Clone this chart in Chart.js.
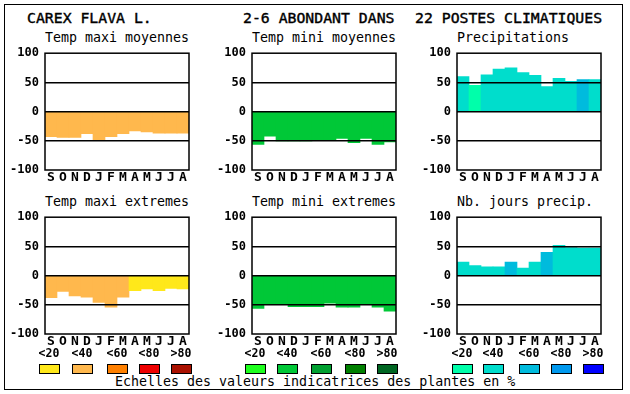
<!DOCTYPE html>
<html lang="fr">
<head>
<meta charset="UTF-8">
<title>Carex flava L.</title>
<style>
  * { box-sizing: border-box; margin: 0; padding: 0; }
  html, body { width: 630px; height: 394px; background: #fff; overflow: hidden; }
  .frame { position: absolute; left: 4px; top: 4px; width: 619px; height: 386px; border: 1px solid #000; }
  .txt { position: absolute; font-family: 'DejaVu Sans Mono', monospace; color: #000; white-space: pre; line-height: 16px; }
  .head { font-size: 14.8px; -webkit-text-stroke: 0.4px #000; }
  .ptitle { font-size: 13.3px; }
  canvas { position: absolute; }
  .sw { position: absolute; width: 21px; height: 10px; border: 1px solid #000; }
  .lab { position: absolute; width: 40px; text-align: center; line-height: 14px; font: bold 11.5px 'DejaVu Sans Mono', monospace; }
</style>
</head>
<body>
<div class="frame"></div>
<div class="txt head" style="left:27px;top:10px">CAREX FLAVA L.</div>
<div class="txt head" style="left:243px;top:10px">2-6 ABONDANT DANS</div>
<div class="txt head" style="left:415px;top:10px">22 POSTES CLIMATIQUES</div>
<div class="txt ptitle" style="left:115px;top:374px">Echelles des valeurs indicatrices des plantes en %</div>
<div id="charts"></div>

<script src="https://cdn.jsdelivr.net/npm/chart.js@4.4.0/dist/chart.umd.min.js"></script>
<script>
// --- data ---
const months = ['S', 'O', 'N', 'D', 'J', 'F', 'M', 'A', 'M', 'J', 'J', 'A'];
const yTicks = [100, 50, 0, -50, -100];
const classLabels = ['<20', '<40', '<60', '<80', '>80'];

const warmColors = ['#FFE81A', '#FFB84D', '#FF8000', '#EE0000', '#AA1100'];
const greenColors = ['#1EFF1E', '#00C837', '#00A030', '#008000', '#006622'];
const blueColors = ['#00FFAA', '#00DDCC', '#00BBDD', '#0099EE', '#0000FF'];

const tempMaxiMoy = [-43, -44, -44, -38, -48, -43, -38, -33, -35, -37, -37, -37];
const tempMaxiMoyCls = [1, 1, 1, 1, 1, 1, 1, 1, 1, 1, 1, 1];
const tempMiniMoy = [-56, -42, -50, -50, -50, -48, -48, -46, -53, -46, -56, -52];
const tempMiniMoyCls = [1, 1, 1, 1, 1, 1, 1, 1, 1, 1, 1, 1];
const precip = [60, 45, 63, 73, 75, 67, 62, 43, 57, 52, 55, 55];
const precipCls = [1, 0, 1, 1, 1, 1, 1, 1, 1, 1, 2, 1];
const tempMaxiExt = [-38, -27, -35, -37, -46, -54, -37, -26, -23, -26, -22, -23];
const tempMaxiExtCls = [1, 1, 1, 1, 1, 1, 1, 0, 0, 0, 0, 0];
const tempMiniExt = [-56, -49, -49, -53, -53, -53, -47, -54, -54, -49, -54, -61];
const tempMiniExtCls = [1, 1, 1, 1, 1, 1, 1, 1, 1, 1, 1, 1];
const joursPrecip = [23, 17, 15, 15, 23, 13, 23, 40, 52, 48, 47, 47];
const joursPrecipCls = [1, 1, 1, 1, 2, 1, 1, 2, 1, 1, 1, 1];

// panel layout (plot area left/top)
const panels = [
    { title: 'Temp maxi moyennes', values: tempMaxiMoy, cls: tempMaxiMoyCls, pal: warmColors, x: 45, y: 50 },
    { title: 'Temp mini moyennes', values: tempMiniMoy, cls: tempMiniMoyCls, pal: greenColors, x: 252, y: 50 },
    { title: 'Precipitations', values: precip, cls: precipCls, pal: blueColors, x: 457, y: 50 },
    { title: 'Temp maxi extremes', values: tempMaxiExt, cls: tempMaxiExtCls, pal: warmColors, x: 45, y: 214 },
    { title: 'Temp mini extremes', values: tempMiniExt, cls: tempMiniExtCls, pal: greenColors, x: 252, y: 214 },
    { title: 'Nb. jours precip.', values: joursPrecip, cls: joursPrecipCls, pal: blueColors, x: 457, y: 214 },
];

const AXW = 40, PW = 144, PH = 120, TOP = 10, XH = 16;
const tickFont = { family: 'DejaVu Sans Mono', size: 12, weight: 'bold' };
const monthFont = { family: 'DejaVu Sans Mono', size: 13, weight: 'bold' };

// black box around the plot area, over the bars
const frameBox = {
    id: 'frameBox',
    afterDraw(chart) {
        const a = chart.chartArea, g = chart.ctx;
        g.save();
        g.strokeStyle = '#000';
        g.lineWidth = 1.5;
        g.strokeRect(a.left, a.top, a.right - a.left, a.bottom - a.top);
        g.restore();
    }
};

const holder = document.getElementById('charts');
panels.forEach(p => {
    const t = document.createElement('div');
    t.className = 'txt ptitle';
    t.style.left = p.x + 'px';
    t.style.top = (p.y - 20) + 'px';
    t.textContent = p.title;
    holder.appendChild(t);

    const c = document.createElement('canvas');
    c.width = AXW + PW + 4;
    c.height = TOP + PH + XH;
    c.style.left = (p.x - AXW) + 'px';
    c.style.top = (p.y - TOP) + 'px';
    holder.appendChild(c);

    new Chart(c, {
        type: 'bar',
        data: {
            labels: months,
            datasets: [{
                data: p.values,
                backgroundColor: p.cls.map(k => p.pal[k]),
                borderWidth: 0,
                barPercentage: 1,
                categoryPercentage: 1
            }]
        },
        options: {
            responsive: false,
            animation: false,
            devicePixelRatio: 1,
            layout: { padding: { top: TOP, right: 4, left: 0, bottom: 0 } },
            plugins: { legend: { display: false }, tooltip: { enabled: false } },
            scales: {
                x: {
                    grid: { display: false, drawTicks: false },
                    border: { display: false },
                    ticks: { color: '#000', font: monthFont, padding: 0, maxRotation: 0, autoSkip: false },
                    afterFit: s => { s.height = XH; }
                },
                y: {
                    min: -100,
                    max: 100,
                    afterBuildTicks: s => { s.ticks = yTicks.map(v => ({ value: v })); },
                    grid: {
                        z: 1,
                        drawTicks: false,
                        lineWidth: 1.5,
                        color: c => Math.abs(c.tick.value) === 100 ? 'rgba(0,0,0,0)' : '#000'
                    },
                    border: { display: false },
                    ticks: { color: '#000', font: tickFont, padding: 6 },
                    afterFit: s => { s.width = AXW; }
                }
            }
        },
        plugins: [frameBox]
    });
});

// colour scales legend
const legendGroups = [
    { pal: warmColors, xs: [39, 72, 107, 139, 171] },
    { pal: greenColors, xs: [245, 277, 311, 345, 377] },
    { pal: blueColors, xs: [452, 483, 519, 551, 583] },
];
legendGroups.forEach(grp => {
    grp.pal.forEach((col, i) => {
        const s = document.createElement('div');
        s.className = 'sw';
        s.style.left = grp.xs[i] + 'px';
        s.style.top = '364px';
        s.style.background = col;
        holder.appendChild(s);
        const l = document.createElement('div');
        l.className = 'lab';
        l.style.left = (grp.xs[i] + 10 - 20) + 'px';
        l.style.top = '346px';
        l.textContent = classLabels[i];
        holder.appendChild(l);
    });
});
</script>
</body>
</html>
